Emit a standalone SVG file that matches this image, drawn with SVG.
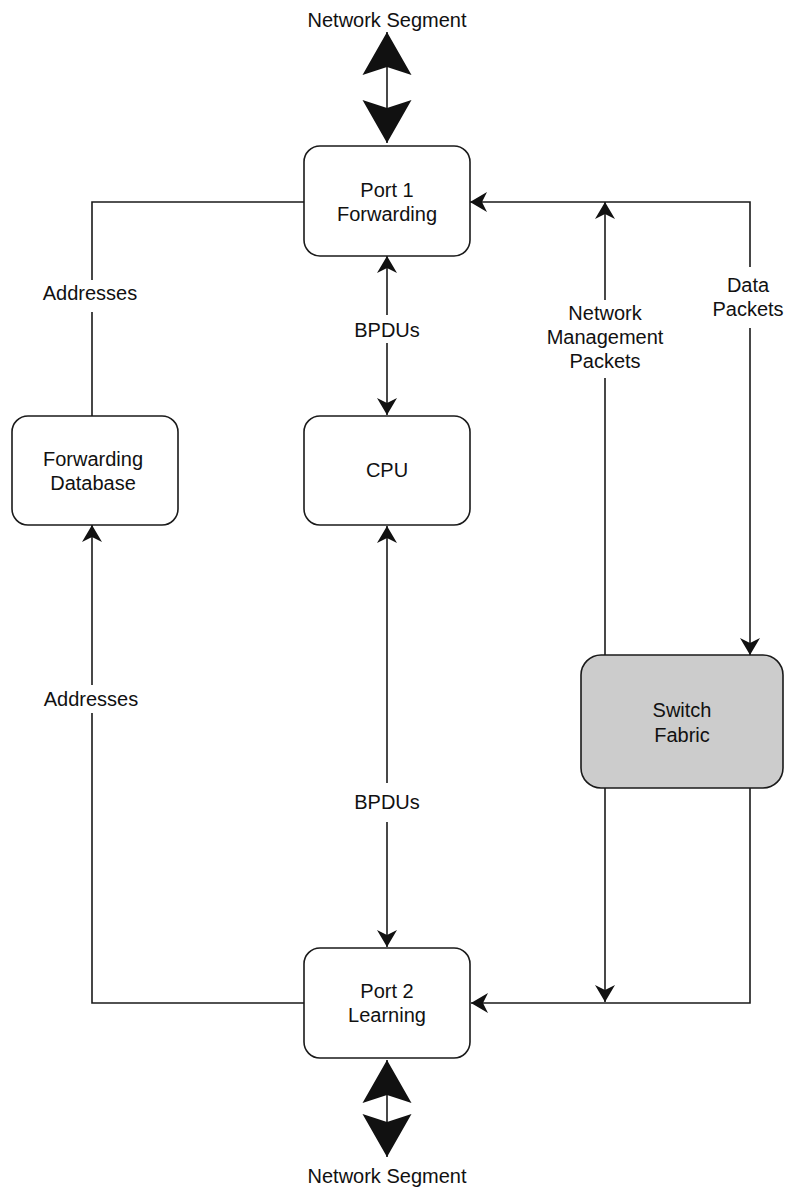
<svg xmlns="http://www.w3.org/2000/svg" width="787" height="1188" viewBox="0 0 787 1188">
<style>
.box{fill:#ffffff;stroke:#1a1a1a;stroke-width:1.6}
.fab{fill:#cccccc;stroke:#1a1a1a;stroke-width:1.6}
.ln{fill:none;stroke:#1a1a1a;stroke-width:1.6}
text{font-family:"Liberation Sans",Arial,sans-serif;font-size:20px;fill:#111;text-anchor:middle}
</style>
<defs>
<marker id="arr" markerUnits="userSpaceOnUse" viewBox="-18 -11 20 22" refX="0" refY="0" markerWidth="20" markerHeight="22" orient="auto-start-reverse">
<path d="M0,0 L-17,-10 L-12,0 L-17,10 Z" fill="#111"/>
</marker>
<marker id="big" markerUnits="userSpaceOnUse" viewBox="-45 -26 47 52" refX="0" refY="0" markerWidth="47" markerHeight="52" orient="auto-start-reverse">
<path d="M0,0 L-43,-24.5 L-35,0 L-43,24.5 Z" fill="#111"/>
</marker>
</defs>
<g id="connectors">
<path class="ln" d="M387,32 V143" marker-start="url(#big)" marker-end="url(#big)"/>
<path class="ln" d="M387,1060 V1157" marker-start="url(#big)" marker-end="url(#big)"/>
<path class="ln" d="M304,202 H92 V280 M92,312 V416"/>
<path class="ln" d="M304,1003 H92 V713"/>
<path class="ln" d="M92,685 V525" marker-end="url(#arr)"/>
<path class="ln" d="M387,315 V256" marker-end="url(#arr)"/>
<path class="ln" d="M387,343 V415" marker-end="url(#arr)"/>
<path class="ln" d="M387,783 V526" marker-end="url(#arr)"/>
<path class="ln" d="M387,822 V947" marker-end="url(#arr)"/>
<path class="ln" d="M605,655 V378"/>
<path class="ln" d="M605,300 V202" marker-end="url(#arr)"/>
<path class="ln" d="M750,267 V202 H470" marker-end="url(#arr)"/>
<path class="ln" d="M750,328 V655" marker-end="url(#arr)"/>
<path class="ln" d="M605,788 V1002" marker-end="url(#arr)"/>
<path class="ln" d="M750,788 V1003 H471" marker-end="url(#arr)"/>
<text x="387" y="27">Network Segment</text>
<text x="387" y="1183">Network Segment</text>
<text x="90" y="300">Addresses</text>
<text x="91" y="706">Addresses</text>
<text x="387" y="337">BPDUs</text>
<text x="387" y="809">BPDUs</text>
<text x="605" y="320">Network</text>
<text x="605" y="344">Management</text>
<text x="605" y="368">Packets</text>
<text x="748" y="292">Data</text>
<text x="748" y="316">Packets</text>
</g>
<g id="port1">
<rect class="box" x="304" y="146" width="166" height="110" rx="16"/>
<text x="387" y="197">Port 1</text>
<text x="387" y="221">Forwarding</text>
</g>
<g id="fdb">
<rect class="box" x="12" y="416" width="166" height="109" rx="16"/>
<text x="93" y="466">Forwarding</text>
<text x="93" y="490">Database</text>
</g>
<g id="cpu">
<rect class="box" x="304" y="416" width="166" height="109" rx="16"/>
<text x="387" y="477">CPU</text>
</g>
<g id="fabric">
<rect class="fab" x="581" y="655" width="202" height="133" rx="20"/>
<text x="682" y="717">Switch</text>
<text x="682" y="742">Fabric</text>
</g>
<g id="port2">
<rect class="box" x="304" y="948" width="166" height="110" rx="16"/>
<text x="387" y="998">Port 2</text>
<text x="387" y="1022">Learning</text>
</g>
</svg>
